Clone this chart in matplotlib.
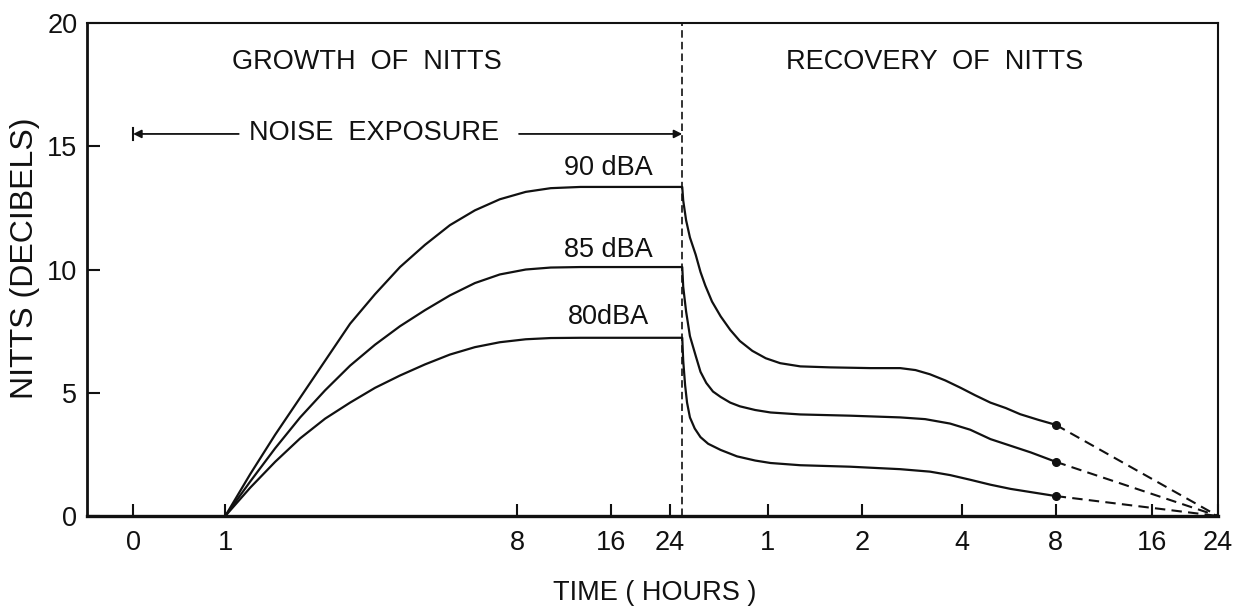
"""Growth and recovery of NITTS after noise exposure."""

import matplotlib
matplotlib.use('Agg')
import matplotlib.pyplot as plt

plt.rcParams['font.family'] = ['Liberation Sans', 'DejaVu Sans']

# Broken time axis: exposure hours on the left, recovery hours on the right
tick_pos = [-0.96, 0, 3.04, 4.02, 4.63, 5.65, 6.63, 7.67, 8.65, 9.65, 10.34]
tick_labels = ['0', '1', '8', '16', '24', '1', '2', '4', '8', '16', '24']
exposure_end = 4.76
recovery_end = 10.34

# 90 dBA curve (axis position, NITTS in dB)
x_90 = [0, 0.26, 0.52, 0.78, 1.04, 1.30, 1.56, 1.82, 2.08, 2.34, 2.60, 2.86,
        3.13, 3.39, 3.70, 4.76,
        4.77, 4.80, 4.84, 4.90, 4.95, 5.00, 5.07, 5.16, 5.26, 5.36, 5.49,
        5.63, 5.78, 5.99, 6.30, 6.72, 7.03, 7.19, 7.34, 7.50, 7.66, 7.81,
        7.97, 8.13, 8.28, 8.47, 8.65]
y_90 = [0, 1.7, 3.3, 4.8, 6.3, 7.8, 9.0, 10.1, 11.0, 11.8, 12.4, 12.85,
        13.15, 13.3, 13.35, 13.35,
        12.8, 12.0, 11.3, 10.6, 9.9, 9.35, 8.7, 8.1, 7.55, 7.1, 6.7,
        6.4, 6.2, 6.07, 6.03, 6.0, 6.0, 5.92, 5.75, 5.5, 5.2, 4.9,
        4.6, 4.38, 4.13, 3.9, 3.7]

# 85 dBA curve
x_85 = [0, 0.26, 0.52, 0.78, 1.04, 1.30, 1.56, 1.82, 2.08, 2.34, 2.60, 2.86,
        3.13, 3.39, 3.70, 4.76,
        4.77, 4.80, 4.84, 4.90, 4.95, 5.01, 5.08, 5.16, 5.26, 5.36, 5.52,
        5.68, 5.99, 6.51, 7.03, 7.29, 7.55, 7.76, 7.97, 8.18, 8.39, 8.65]
y_85 = [0, 1.4, 2.75, 4.0, 5.1, 6.1, 6.95, 7.7, 8.35, 8.95, 9.45, 9.8,
        10.0, 10.08, 10.1, 10.1,
        9.3, 8.3, 7.3, 6.5, 5.85, 5.4, 5.05, 4.83, 4.6, 4.45, 4.3,
        4.2, 4.12, 4.07, 4.0, 3.93, 3.75, 3.5, 3.12, 2.85, 2.58, 2.2]

# 80 dBA curve
x_80 = [0, 0.26, 0.52, 0.78, 1.04, 1.30, 1.56, 1.82, 2.08, 2.34, 2.60, 2.86,
        3.13, 3.39, 3.70, 4.76,
        4.77, 4.79, 4.81, 4.84, 4.89, 4.95, 5.03, 5.16, 5.33, 5.52, 5.68,
        5.99, 6.51, 7.03, 7.34, 7.55, 7.76, 7.97, 8.18, 8.39, 8.65]
y_80 = [0, 1.15, 2.2, 3.15, 3.95, 4.6, 5.2, 5.7, 6.15, 6.55, 6.85, 7.05,
        7.17, 7.22, 7.23, 7.23,
        6.3, 5.3, 4.6, 4.0, 3.55, 3.2, 2.93, 2.68, 2.42, 2.25, 2.15,
        2.06, 2.0, 1.9, 1.8, 1.66, 1.47, 1.27, 1.1, 0.97, 0.81]

curves = [(x_90, y_90), (x_85, y_85), (x_80, y_80)]
level_labels = ['90 dBA', '85 dBA', '80dBA']
label_y = [14.1, 10.8, 8.07]

ink = '#111111'
fs = 19.5

fig = plt.figure(figsize=(12.38, 6.09), dpi=100)
ax = fig.add_axes([0.0703, 0.1527, 0.9135, 0.8095])

for x, y in curves:
    ax.plot(x, y, color=ink, lw=1.6, solid_joinstyle='round', zorder=3)
    ax.plot(x[-1], y[-1], 'o', ms=5.5, color=ink, zorder=4)
    # extrapolated recovery to 24 hours
    ax.plot([x[-1], recovery_end], [y[-1], 0], color=ink, lw=1.5,
            dashes=(5, 3), zorder=3)

for text, ly in zip(level_labels, label_y):
    ax.text(3.99, ly, text, ha='center', va='center', fontsize=fs, color=ink)

# End of exposure
ax.axvline(exposure_end, color=ink, lw=1.2, dashes=(4.5, 2.5), zorder=2)

ax.text(1.48, 18.4, 'GROWTH  OF  NITTS', ha='center', va='center',
        fontsize=fs, color=ink)
ax.text(7.39, 18.4, 'RECOVERY  OF  NITTS', ha='center', va='center',
        fontsize=fs, color=ink)

# Noise exposure span
ax.text(1.55, 15.55, 'NOISE  EXPOSURE', ha='center', va='center',
        fontsize=fs, color=ink)
arrow = dict(arrowstyle='-|>', color=ink, lw=1.3, mutation_scale=12,
             shrinkA=0, shrinkB=0)
ax.annotate('', xy=(-0.96, 15.5), xytext=(0.14, 15.5), arrowprops=arrow)
ax.annotate('', xy=(exposure_end, 15.5), xytext=(3.06, 15.5),
            arrowprops=arrow)
ax.plot([-0.96, -0.96], [15.25, 15.75], color=ink, lw=1.5)

ax.set_xlim(-1.44, recovery_end)
ax.set_ylim(0, 20)
ax.set_xticks(tick_pos)
ax.set_xticklabels(tick_labels)
ax.set_yticks([0, 5, 10, 15, 20])
ax.tick_params(axis='both', direction='in', length=9, width=1.5,
               labelsize=fs, colors=ink)
ax.tick_params(axis='x', pad=10)
ax.tick_params(axis='y', pad=7)

ax.set_xlabel('TIME ( HOURS )', fontsize=fs, color=ink, va='center')
ax.xaxis.set_label_coords(0.502, -0.156)
ax.set_ylabel('NITTS (DECIBELS)', fontsize=23, color=ink, va='center')
ax.yaxis.set_label_coords(-0.055, 0.523)

ax.spines['bottom'].set_linewidth(2.4)
ax.spines['left'].set_linewidth(2.0)
ax.spines['top'].set_linewidth(1.5)
ax.spines['right'].set_linewidth(1.5)
for s in ax.spines.values():
    s.set_color(ink)

fig.savefig('out.png', dpi=100, facecolor='white')
